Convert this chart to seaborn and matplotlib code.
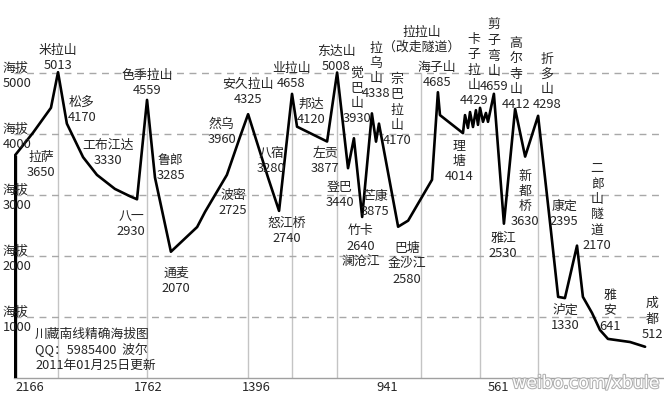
import matplotlib
matplotlib.use("Agg")
import matplotlib.pyplot as plt
import matplotlib.patheffects as pe
import seaborn as sns
import pandas as pd

# elevation profile, km to Chengdu vs metres
dist_km = [2166, 2105, 2044, 2020, 1990, 1935, 1888, 1827, 1776, 1752,
           1718, 1691, 1637, 1548, 1521, 1447, 1402, 1375, 1307, 1270,
           1226, 1209, 1107, 1073, 1036, 1016, 988, 955, 941, 931,
           866, 832, 751, 731, 724, 646, 639, 629, 622, 612,
           602, 595, 588, 578, 568, 561, 541, 507, 469, 435,
           391, 347, 323, 300, 259, 239, 208, 181, 154, 79, 28]
elev_m = [3650, 4020, 4430, 5013, 4170, 3620, 3330, 3100, 2980, 2930,
          4559, 3285, 2070, 2475, 2725, 3330, 3960, 4325, 3280, 2740,
          4658, 4120, 3877, 5008, 3440, 3930, 2640, 4338, 3875, 4170,
          2480, 2580, 3250, 4685, 4310, 4014, 4310, 4100, 4360, 4115,
          4390, 4150, 4429, 4200, 4345, 4200, 4659, 2530, 4412, 3630,
          4298, 2395, 1330, 1310, 2170, 1330, 1066, 787, 641, 590, 512]

# passes with drop lines
pass_km = [2020, 1718, 1375, 1226, 1073, 788, 588, 391]
pass_top = [5013, 4559, 4325, 4658, 5008, 5000, 4429, 4298]

x_ticks = [2166, 1762, 1396, 941, 561]
y_ticks = [1000, 2000, 3000, 4000, 5000]

# station labels: text, km, metres (centre of the text block)
labels = [
    ("米拉山\n5013", 2020, 5246), ("松多\n4170", 1939, 4393),
    ("工布江达\n3330", 1850, 3688), ("拉萨\n3650", 2078, 3492),
    ("色季拉山\n4559", 1718, 4836), ("鲁郎\n3285", 1637, 3443),
    ("八一\n2930", 1772, 2525), ("通麦\n2070", 1620, 1590),
    ("然乌\n3960", 1464, 4033), ("安久拉山\n4325", 1375, 4688),
    ("八宿\n3280", 1297, 3557), ("业拉山\n4658", 1229, 4951),
    ("邦达\n4120", 1162, 4361), ("东达山\n5008", 1077, 5229),
    ("左贡\n3877", 1114, 3557), ("觉\n巴\n山\n3930", 1007, 4623),
    ("拉\n乌\n山\n4338", 942, 5033), ("宗\n巴\n拉\n山\n4170", 870, 4393),
    ("拉拉山\n（改走隧道）", 787, 5541), ("波密\n2725", 1426, 2869),
    ("怒江桥\n2740", 1243, 2410), ("登巴\n3440", 1063, 3000),
    ("芒康\n3875", 944, 2852), ("竹卡\n2640\n澜沧江", 992, 2164),
    ("巴塘\n金沙江\n2580", 836, 1869), ("海子山\n4685", 734, 4967),
    ("卡\n子\n拉\n山\n4429", 608, 5049), ("剪\n子\n弯\n山\n4659", 541, 5279),
    ("高\n尔\n寺\n山\n4412", 466, 4983), ("折\n多\n山\n4298", 361, 4852),
    ("理\n塘\n4014", 659, 3557), ("新\n都\n桥\n3630", 435, 2934),
    ("雅江\n2530", 510, 2164), ("康定\n2395", 303, 2688),
    ("二\n郎\n山\n隧\n道\n2170", 191, 2803), ("泸定\n1330", 300, 984),
    ("雅\n安\n641", 147, 1098), ("成\n都\n512", 4, 967),
]

info = "川藏南线精确海拔图\nQQ：5985400  波尔\n2011年01月25日更新"

sns.set_style("white")
plt.rcParams['font.family'] = ['Noto Sans CJK SC', 'DejaVu Sans']

fig = plt.figure(figsize=(6.64, 3.94), dpi=100)
ax = fig.add_axes([14/664, 16/394, 650/664, 378/394])

df = pd.DataFrame({"km": dist_km, "elev": elev_m})

# drop lines under the passes + dashed height lines
ax.vlines(pass_km, 0, pass_top, color='#c4c4c4', lw=1, zorder=1)
for yv in y_ticks:
    ax.axhline(yv, color='#a8a8a8', lw=1, ls=(0, (5, 4)), zorder=1)

sns.lineplot(data=df, x="km", y="elev", sort=False, estimator=None,
             color='black', linewidth=1.9, ax=ax, zorder=3)
ax.vlines(dist_km[0], 0, elev_m[0], color='black', lw=2.4, zorder=3)

ax.set_xlim(2169.4, -36.2)
ax.set_ylim(0, 6197)
ax.set_xlabel("")
ax.set_ylabel("")

ax.set_xticks(x_ticks)
ax.set_xticklabels([str(v) for v in x_ticks], fontsize=9.3)
for t in ax.get_xticklabels():
    t.set_ha('left')
ax.set_yticks(y_ticks)
ax.set_yticklabels([])
ax.tick_params(axis='y', length=0)
ax.tick_params(axis='x', length=0, pad=2)

# "海拔 / height" labels sitting on the dashed lines, inside the left edge
ytrans = ax.get_yaxis_transform()
for yv in y_ticks:
    ax.annotate("海拔", (0, yv), xycoords=ytrans, xytext=(-8, 3.6),
                textcoords='offset points', ha='left', va='center',
                fontsize=9.3, zorder=4)
    ax.annotate(str(yv), (0, yv), xycoords=ytrans, xytext=(-8, -7.4),
                textcoords='offset points', ha='left', va='center',
                fontsize=9.3, zorder=4)

for s in ['top', 'right', 'left']:
    ax.spines[s].set_visible(False)
ax.spines['bottom'].set_color('#a0a0a0')
ax.spines['bottom'].set_linewidth(1)

# one text per line so the blocks stay narrow
step = 11.0  # points between lines
for txt, xk, ym in labels:
    lines = txt.split("\n")
    n = len(lines)
    for i, line in enumerate(lines):
        ax.annotate(line, (xk, ym), xytext=(0, ((n - 1) / 2 - i) * step),
                    textcoords='offset points', ha='center', va='center',
                    fontsize=9.3, zorder=4)

ax.text(2098, 459, info, ha='left', va='center', fontsize=9.2,
        linespacing=1.15, zorder=4)

fig.text(0.995, 0.005, "weibo.com/xbule", ha='right', va='bottom',
         fontsize=12.5, color='white', family=['DejaVu Sans'],
         path_effects=[pe.withStroke(linewidth=1.5, foreground='#b0b0b0')])

fig.savefig("out.png", dpi=100)
